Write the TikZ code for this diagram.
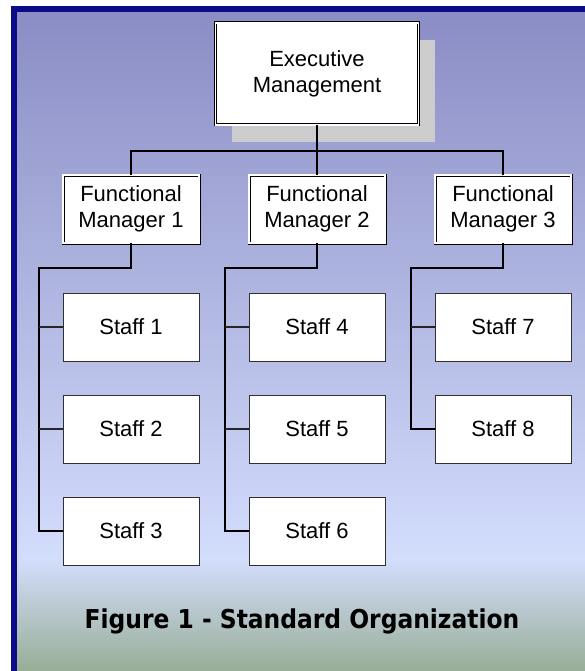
\documentclass[tikz,border=0pt]{standalone}
\usepackage{fontspec}
\setmainfont{Liberation Sans}
\newfontfamily\captionfont{DejaVu Sans Condensed}
\usetikzlibrary{positioning,shadows}

\definecolor{framenavy}{HTML}{0C0C88}
\definecolor{bgtop}{HTML}{8A8CC4}
\definecolor{bgmid}{HTML}{D3DDFC}
\definecolor{bgbottom}{HTML}{97AD95}
\definecolor{boxline}{HTML}{303030}

\begin{document}
\begin{tikzpicture}[x=1pt, y=-1pt,
				manager/.style={rectangle, draw=black, double=white, double distance=1.6pt, line width=0.7pt, fill=white, align=center, minimum width=136pt, minimum height=68pt, inner sep=0pt, outer sep=0pt, font=\fontsize{22}{26.5}\selectfont},
				chief/.style={manager, minimum width=203pt, minimum height=102pt, drop shadow={shadow xshift=16pt, shadow yshift=-17pt, fill=black!20, opacity=1}},
				staffbox/.style={rectangle, draw=boxline, line width=0.9pt, fill=white, minimum width=136pt, minimum height=68pt, inner sep=0pt, outer sep=0pt, font=\fontsize{22}{26.5}\selectfont},
				caption/.style={font=\captionfont\bfseries\fontsize{26}{30}\selectfont}
			]
			\useasboundingbox (0,0) rectangle (585,671);
			% backdrop and frame
			\begin{scope}
			\clip (0,0) rectangle (585,671);
			\shade[top color=bgtop, bottom color=bgmid] (14,9) rectangle (600,560);
			\shade[top color=bgmid, bottom color=bgbottom] (14,560) rectangle (600,672);
			\draw[framenavy, line width=6pt] (14,700) -- (14,9) -- (600,9);
			\end{scope}
			\node[chief] (exec) at (317,74) {Executive\\Management};
			\node[manager] (fm2) [below=50pt of exec] {Functional\\Manager 2};
			\node[manager] (fm1) [left=50pt of fm2] {Functional\\Manager 1};
			\node[manager] (fm3) [right=50pt of fm2] {Functional\\Manager 3};
			\node[staffbox] (staff1) [below=50pt of fm1] {Staff 1};
			\node[staffbox] (staff2) [below=34pt of staff1] {Staff 2};
			\node[staffbox] (staff3) [below=34pt of staff2] {Staff 3};
			\node[staffbox] (staff4) [below=50pt of fm2] {Staff 4};
			\node[staffbox] (staff5) [below=34pt of staff4] {Staff 5};
			\node[staffbox] (staff6) [below=34pt of staff5] {Staff 6};
			\node[staffbox] (staff7) [below=50pt of fm3] {Staff 7};
			\node[staffbox] (staff8) [below=34pt of staff7] {Staff 8};
			\node[caption] (caption) at (302,621) {Figure 1 - Standard Organization};
			\coordinate (bus) at ([yshift=-26pt]exec.south);
			\begin{scope}[line width=1.2pt]
			\draw (exec.south) -- (bus);
			\draw (fm1.north) |- (bus) -| (fm3.north);
			\draw (bus) -- (fm2.north);
			\draw (fm1.south) -- ++(0,25) -| ([xshift=-24pt]staff3.west) -- (staff3.west);
			\draw (fm2.south) -- ++(0,25) -| ([xshift=-24pt]staff6.west) -- (staff6.west);
			\draw (fm3.south) -- ++(0,25) -| ([xshift=-24pt]staff8.west) -- (staff8.west);
			\end{scope}
			\begin{scope}[line width=1.1pt, black!85]
			\draw ([xshift=-24pt]staff1.west) -- (staff1.west);
			\draw ([xshift=-24pt]staff2.west) -- (staff2.west);
			\draw ([xshift=-24pt]staff4.west) -- (staff4.west);
			\draw ([xshift=-24pt]staff5.west) -- (staff5.west);
			\draw ([xshift=-24pt]staff7.west) -- (staff7.west);
			\end{scope}
			\end{tikzpicture}
\end{document}
